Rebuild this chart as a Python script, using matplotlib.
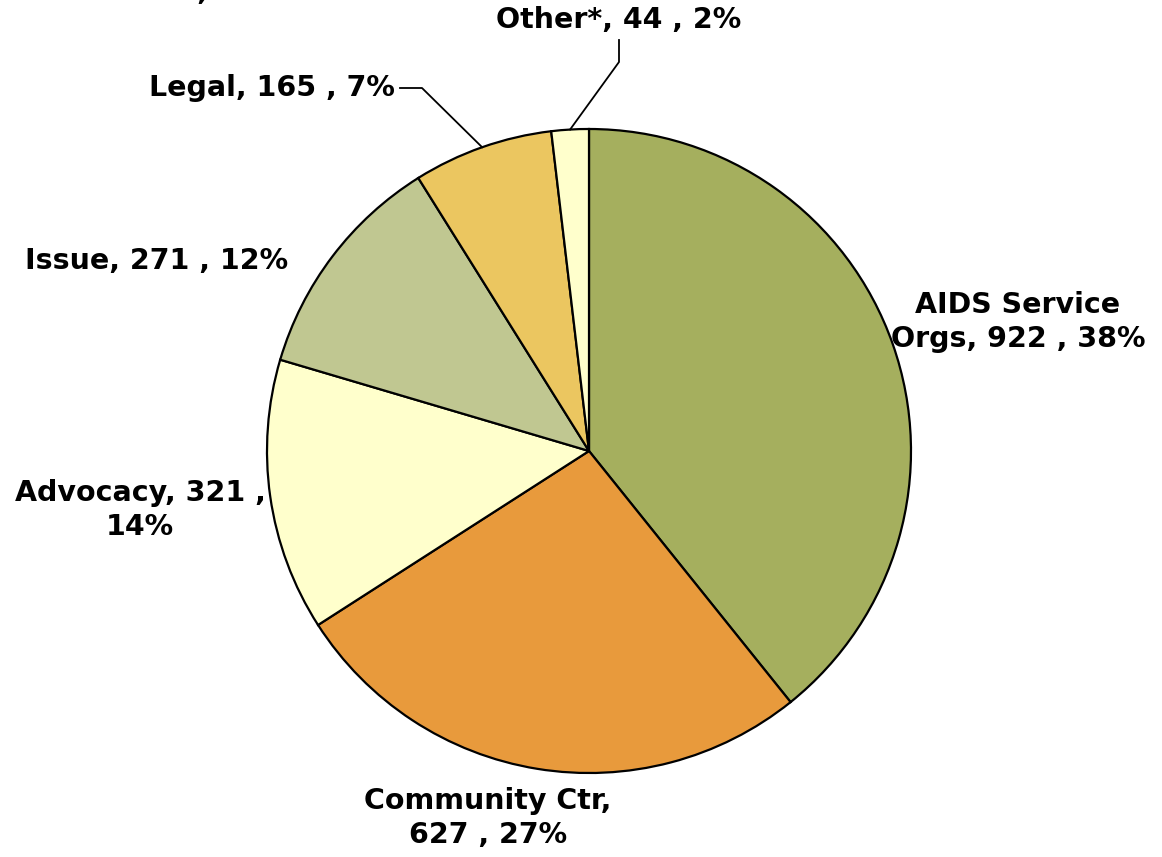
import numpy as np
import matplotlib.pyplot as plt

categories = ['AIDS Service Orgs', 'Community Ctr', 'Advocacy', 'Issue', 'Legal', 'Other*']
counts = [922, 627, 321, 271, 165, 44]
pct_labels = ['38%', '27%', '14%', '12%', '7%', '2%']
colors = ['#A5AF5E', '#E89A3C', '#FFFFCC', '#C0C791', '#EBC660', '#FFFFCC']

label_text = [
    'AIDS Service\nOrgs, {} , {}',
    'Community Ctr,\n{} , {}',
    'Advocacy, {} ,\n{}',
    'Issue, {} , {}',
    'Legal, {} , {}',
    'Other*, {} , {}',
]

W, H = 1162, 857
fig = plt.figure(figsize=(W / 100, H / 100), dpi=100)
ax = fig.add_axes([0, 0, 1, 1])

cx, cy, r = 589, H - 451, 322
wedges, _ = ax.pie(counts, colors=colors, startangle=90, counterclock=False,
                   center=(cx, cy), radius=r, frame=True,
                   wedgeprops=dict(edgecolor='black', linewidth=1.6))
ax.set_xlim(0, W)
ax.set_ylim(0, H)
ax.set_aspect('equal')
ax.axis('off')

font = dict(fontsize=20.5, fontweight='bold', family='DejaVu Sans', color='black')

# label positions in pixels from the top-left corner
label_pos = [(1018, 322), (488, 818), (140, 510), (157, 261), (272, 88), (619, 20)]
for i, (px, py) in enumerate(label_pos):
    txt = label_text[i].format(counts[i], pct_labels[i])
    ax.text(px, H - py, txt, ha='center', va='center', linespacing=1.25, **font)

def edge_point(w):
    mid = np.deg2rad((w.theta1 + w.theta2) / 2)
    return cx + r * np.cos(mid), cy + r * np.sin(mid)

# leader lines for the two small slices
ex, ey = edge_point(wedges[5])
ax.plot([619, 619, ex], [H - 40, H - 62, ey], color='black', lw=1.3)
ex, ey = edge_point(wedges[4])
ax.plot([400, 422, ex], [H - 88, H - 88, ey], color='black', lw=1.3)

fig.text(22 / W, 1 + 0.2 / H, 'Total N = {:,}'.format(sum(counts)), ha='left',
         va='baseline', **font)

fig.savefig('out.png', dpi=100, facecolor='white')
